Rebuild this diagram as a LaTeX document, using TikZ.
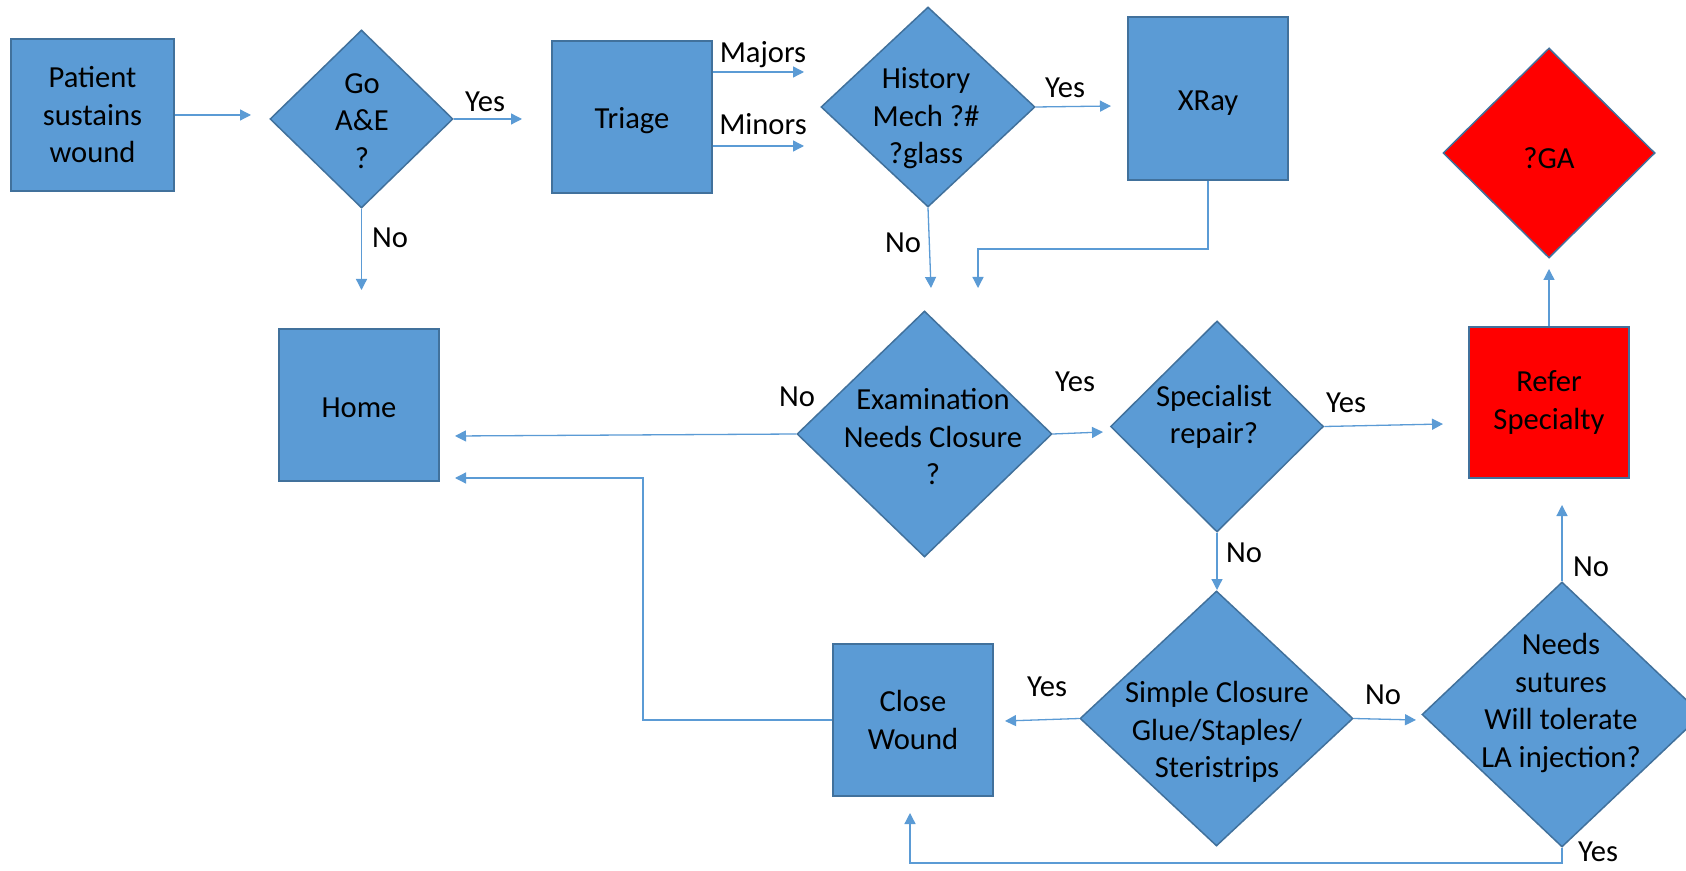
\documentclass[tikz,border=0pt]{standalone}
\usepackage{fontspec}
\setmainfont{Carlito}
\usetikzlibrary{shapes.geometric,arrows.meta}
\definecolor{boxc}{HTML}{5B9BD5}
\definecolor{bordc}{HTML}{41719C}
\definecolor{linec}{HTML}{5B9BD5}
\definecolor{redc}{HTML}{FF0000}
\newcommand\fs{\fontsize{15.3}{18.75}\selectfont}
\tikzset{
  box/.style={draw=bordc, fill=boxc, line width=0.75pt, inner sep=0pt, align=center, font=\fs},
  dia/.style={diamond, draw=bordc, fill=boxc, line width=0.75pt, inner sep=0pt},
  txt/.style={align=center, font=\fs, inner sep=0pt},
  lbl/.style={font=\fs, inner sep=0pt},
  arr/.style={draw=linec, line width=0.65pt, -{Triangle[length=5.5pt,width=5.5pt]}},
}
\begin{document}
\begin{tikzpicture}[x=0.5pt,y=-0.5pt]
\clip (0,0) rectangle (1686,871);
\fill[white] (0,0) rectangle (1686,871);
% boxes
\node[box, minimum width=81.5pt, minimum height=76pt] (pat) at (92.5,115) {Patient\\sustains\\wound};
\node[box, minimum width=80pt, minimum height=76pt] (triage) at (632,117) {};
\node[txt] (triaget) at (632,121) {Triage};
\node[box, minimum width=80pt, minimum height=81.5pt] (xray) at (1208,98.5) {};
\node[txt] (xrayt) at (1208,103) {XRay};
\node[box, minimum width=80pt, minimum height=76pt] (home) at (359,405) {};
\node[txt] (homet) at (359,407.5) {Home};
\node[box, fill=redc, minimum width=80pt, minimum height=75.5pt] (refer) at (1549,402.5) {Refer\\Specialty};
\node[box, minimum width=80pt, minimum height=76pt] (close) at (913,720) {Close\\Wound};
% diamonds
\node[dia, minimum width=91.5pt, minimum height=89pt] (go) at (361.5,119) {};
\node[txt] (got) at (362,121) {Go\\A\&E\\?};
\node[dia, minimum width=107pt, minimum height=100pt] (hist) at (928,107) {};
\node[txt] (histt) at (926,118.5) {History\\Mech ?\#\\?glass};
\node[dia, fill=redc, minimum width=106pt, minimum height=105pt] (ga) at (1549,153) {};
\node[txt] (gat) at (1549,158) {?GA};
\node[dia, minimum width=127.5pt, minimum height=123pt] (exam) at (924.5,434) {};
\node[txt] (examt) at (933,437) {Examination\\Needs Closure\\?};
\node[dia, minimum width=106.5pt, minimum height=105.5pt] (spec) at (1217,426.5) {};
\node[txt] (spect) at (1214,417) {Specialist\\repair?};
\node[dia, minimum width=136.5pt, minimum height=127.5pt] (simple) at (1216.5,718.5) {};
\node[txt] (simplet) at (1217,732) {Simple Closure\\Glue/Staples/\\Steristrips};
\node[dia, minimum width=140pt, minimum height=132.5pt] (needs) at (1562,714.5) {};
\node[txt] (needst) at (1561,703) {Needs\\sutures\\Will tolerate\\LA injection?};
% free arrow ends
\coordinate (a1) at (251,115);
\coordinate (a2) at (522,119);
\coordinate (a3) at (361.5,290);
\coordinate (m1) at (804,72);
\coordinate (m2) at (804,146);
\coordinate (h1) at (1111,106);
\coordinate (h2) at (931,288);
\coordinate (xk) at (978,249);
\coordinate (xr) at (978,288);
\coordinate (r1) at (1549,269);
\coordinate (e1) at (455,436);
\coordinate (e2) at (1103,432);
\coordinate (s1) at (1443,424);
\coordinate (s2) at (1217,590);
\coordinate (c1) at (1005,721);
\coordinate (c2) at (1416,720);
\coordinate (hk) at (643,478);
\coordinate (h3) at (455,478);
\coordinate (n1) at (1562,505);
\coordinate (nk) at (910,863);
\coordinate (n2) at (910,813);
% connectors
\draw[arr] (pat.east) -- (a1);
\draw[arr] (go.east) -- (a2);
\draw[arr] (go.south) -- (a3);
\draw[arr] (triage.east |- m1) -- (m1);
\draw[arr] (triage.east |- m2) -- (m2);
\draw[arr] (hist.east) -- (h1);
\draw[arr] (hist.south) -- (h2);
\draw[arr] (xray.south) |- (xk) -- (xr);
\draw[arr] (refer.north) -- (r1);
\draw[arr] (exam.west) -- (e1);
\draw[arr] (exam.east) -- (e2);
\draw[arr] (spec.east) -- (s1);
\draw[arr] (spec.south) -- (s2);
\draw[arr] (simple.west) -- (c1);
\draw[arr] (simple.east) -- (c2);
\draw[arr] (close.west) -| (hk) -- (h3);
\draw[arr] (needs.north) -- (n1);
\draw[arr] (needs.south) |- (nk) -- (n2);
% labels
\node[lbl] (l1) at (485,102) {Yes};
\node[lbl] (l2) at (390,238) {No};
\node[lbl] (l3) at (763,55) {Majors};
\node[lbl] (l4) at (763,124) {Minors};
\node[lbl] (l5) at (1065,88) {Yes};
\node[lbl] (l6) at (903,243) {No};
\node[lbl] (l7) at (797,397) {No};
\node[lbl] (l8) at (1075,382) {Yes};
\node[lbl] (l9) at (1346,403) {Yes};
\node[lbl] (l10) at (1244,553) {No};
\node[lbl] (l11) at (1047,687) {Yes};
\node[lbl] (l12) at (1383,695) {No};
\node[lbl] (l13) at (1591,567) {No};
\node[lbl] (l14) at (1598,852) {Yes};
\end{tikzpicture}
\end{document}
